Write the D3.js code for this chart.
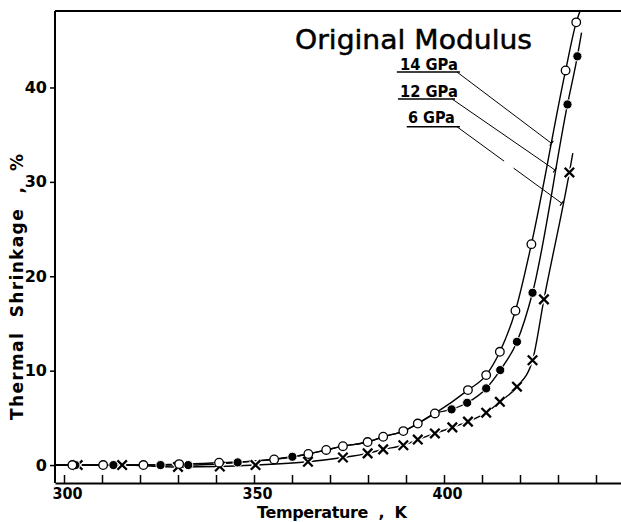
<!DOCTYPE html>
<html>
<head>
<meta charset="utf-8">
<script src="https://cdn.jsdelivr.net/npm/d3@7"></script>
<style>
  html, body { margin: 0; padding: 0; background: #fff; }
  svg { display: block; }
  text { font-family: "DejaVu Sans", sans-serif; fill: #000; }
</style>
</head>
<body>
<svg id="chart" width="621" height="522"></svg>
<script>
// ---------------- data ----------------
// 14 GPa : open circles
const temps14  = [302.2, 310.3, 320.9, 330.3, 340.8, 355.3, 364.3, 369.0, 373.4, 379.9, 384.0, 389.3, 393.1, 397.6, 406.3, 411.1, 414.7, 418.8, 423.0, 432.0, 434.8];
const shrink14 = [0, 0, 0, 0.1, 0.25, 0.6, 1.17, 1.6, 2.0, 2.44, 3.0, 3.6, 4.4, 5.47, 7.94, 9.53, 12.0, 16.35, 23.4, 41.8, 46.9];
// 12 GPa : filled circles
const temps12  = [303.0, 313.0, 325.4, 332.7, 345.7, 360.1, 402.0, 406.1, 411.1, 414.8, 419.2, 423.3, 432.5, 435.1];
const shrink12 = [0, 0, 0, 0, 0.28, 0.88, 5.9, 6.6, 8.12, 10.06, 13.06, 18.25, 38.2, 43.3];
// 6 GPa : crosses
const temps6   = [303.6, 315.3, 330.0, 341.0, 350.4, 364.2, 373.4, 379.9, 384.0, 389.3, 393.1, 397.6, 402.2, 406.3, 411.1, 414.7, 419.2, 423.3, 426.3, 433.0];
const shrink6  = [0, 0, -0.2, -0.15, 0, 0.35, 0.8, 1.24, 1.66, 2.1, 2.7, 3.35, 3.99, 4.6, 5.55, 6.7, 8.3, 11.1, 17.55, 31.0];

// fitted curves: start at the axis, end a little beyond the last point
const curveStartT = 297.8;
const curveEnd14 = [435.8, 48.1];
const curveEnd12 = [436.2, 45.8];
const curveEnd6  = [433.9, 33.05];
// the 12 GPa curve coincides with the 14 GPa curve between these temperatures
const sharedRange = [362, 399];

// axes
const xTicks = [300, 310, 320, 330, 340, 350, 360, 370, 380, 390, 400, 410, 420, 430, 440];
const xTickLabels = [300, 350, 400];
const yTicks = [0, 10, 20, 30, 40];

// annotations (data units)
const title = "Original Modulus";
const titlePos = [360.8, 44.1];
const seriesLabels = ["14 GPa", "12 GPa", "6 GPa"];
const labelT = [388.4, 388.4, 390.5];
const labelV = [41.85, 39.02, 36.2];
const underlineT0 = [387.6, 387.9, 390.2];
const underlineT1 = [404.2, 402.9, 404.2];
const underlineV = [41.64, 38.78, 35.84];
const leaderEndT = [428.3, 429.2, 431.0];
const leaderEndV = [34.08, 31.26, 27.73];

// ---------------- layout ----------------
const svg = d3.select("#chart");
const L = 55, R = 621, T = 11, B = 483;
const x = d3.scaleLinear().domain([297.63, 446.58]).range([L, R]);
const y = d3.scaleLinear().domain([-1.9, 48.1]).range([B, T]);

// axes
const xAxis = d3.axisBottom(x).tickValues(xTicks).tickSizeInner(-8).tickSizeOuter(0).tickPadding(5)
  .tickFormat(d => xTickLabels.includes(d) ? d : "");
const gx = svg.append("g").attr("transform", `translate(0,${B})`).call(xAxis);
gx.select(".domain").attr("stroke-width", 2);
gx.selectAll(".tick line").attr("stroke-width", 1.5);
gx.selectAll("text").style("font-size", "16px").style("font-weight", "bold")
  .attr("textLength", 30).attr("lengthAdjust", "spacingAndGlyphs").attr("dx", 3);

const yAxis = d3.axisLeft(y).tickValues(yTicks).tickSizeInner(5).tickSizeOuter(0).tickPadding(3);
const gy = svg.append("g").attr("transform", `translate(${L},0)`).call(yAxis);
gy.select(".domain").attr("d", `M0,${T}V${B}`).attr("stroke-width", 2);
gy.selectAll(".tick line").attr("stroke-width", 1.5);
gy.selectAll("text").style("font-size", "16px").style("font-weight", "bold");

// top frame line
svg.append("line").attr("x1", x.range()[0]).attr("x2", x.range()[1])
  .attr("y1", y.range()[1]).attr("y2", y.range()[1])
  .attr("stroke", "#000").attr("stroke-width", 2);

// axis titles
svg.append("text").attr("x", 257).attr("y", 518)
  .attr("textLength", 150).attr("lengthAdjust", "spacing")
  .style("font-size", "16px").style("font-weight", "bold").style("white-space", "pre")
  .text("Temperature  ,  K");
svg.append("text").attr("transform", "translate(23,420) rotate(-90)")
  .attr("textLength", 266).attr("lengthAdjust", "spacing")
  .style("font-size", "17px").style("font-weight", "bold").style("white-space", "pre")
  .text("Thermal  Shrinkage  ,  %");

// ---------------- curves ----------------
const zip = (ts, vs) => ts.map((t, i) => [t, vs[i]]);
const pts14 = zip(temps14, shrink14);
const pts12 = zip(temps12, shrink12);
const pts6  = zip(temps6, shrink6);

const line = d3.line().x(d => x(d[0])).y(d => y(d[1])).curve(d3.curveMonotoneX);

const c14 = [[curveStartT, 0], ...pts14, curveEnd14];
const c12 = [[curveStartT, 0],
  ...[...pts12, ...pts14.filter(p => p[0] > sharedRange[0] && p[0] < sharedRange[1])].sort((a, b) => a[0] - b[0]),
  curveEnd12];
const c6  = [[curveStartT, 0], ...pts6, curveEnd6];

[c14, c12, c6].forEach(c => {
  svg.append("path").attr("d", line(c)).attr("fill", "none")
    .attr("stroke", "#000").attr("stroke-width", 1.4);
});

// ---------------- markers ----------------
const cross = d3.symbol().type(d3.symbolX).size(60);
// crosses with white halo
svg.append("g").selectAll("path").data(pts6).join("path")
  .attr("transform", d => `translate(${x(d[0])},${y(d[1])})`)
  .attr("d", cross).attr("fill", "none").attr("stroke", "#fff").attr("stroke-width", 5);
svg.append("g").selectAll("path").data(pts6).join("path")
  .attr("transform", d => `translate(${x(d[0])},${y(d[1])})`)
  .attr("d", cross).attr("fill", "none").attr("stroke", "#000").attr("stroke-width", 2.3);

// filled circles
svg.append("g").selectAll("circle").data(pts12).join("circle")
  .attr("cx", d => x(d[0])).attr("cy", d => y(d[1])).attr("r", 4.6)
  .attr("fill", "#000").attr("stroke", "#fff").attr("stroke-width", 1);

// open circles
svg.append("g").selectAll("circle").data(pts14).join("circle")
  .attr("cx", d => x(d[0])).attr("cy", d => y(d[1])).attr("r", 4.3)
  .attr("fill", "#fff").attr("stroke", "#000").attr("stroke-width", 1.3);

// ---------------- annotations ----------------
svg.append("text").attr("x", x(titlePos[0])).attr("y", y(titlePos[1]))
  .attr("textLength", 237).attr("lengthAdjust", "spacingAndGlyphs")
  .style("font-size", "27px").style("stroke", "#000").style("stroke-width", 0.5)
  .text(title);

seriesLabels.forEach((lab, i) => {
  svg.append("text").attr("x", x(labelT[i])).attr("y", y(labelV[i]))
    .attr("textLength", i === 2 ? 47 : 58).attr("lengthAdjust", "spacingAndGlyphs")
    .style("font-size", "15px").style("font-weight", "bold").text(lab);
  svg.append("line")
    .attr("x1", x(underlineT0[i])).attr("x2", x(underlineT1[i]))
    .attr("y1", y(underlineV[i])).attr("y2", y(underlineV[i]))
    .attr("stroke", "#000").attr("stroke-width", 1.5);
  const x0 = x(underlineT1[i]) - 3, y0 = y(underlineV[i]);
  const x1 = x(leaderEndT[i]), y1 = y(leaderEndV[i]);
  const len = Math.hypot(x1 - x0, y1 - y0);
  const ld = svg.append("line").attr("x1", x0).attr("y1", y0).attr("x2", x1).attr("y2", y1)
    .attr("stroke", "#000").attr("stroke-width", 1);
  if (i === 2) ld.attr("stroke-dasharray", `${len * 0.45},${len * 0.09},${len}`);
  // small end tick perpendicular to leader
  const ux = (x1 - x0) / len, uy = (y1 - y0) / len;
  svg.append("line")
    .attr("x1", x1 - uy * 3).attr("y1", y1 + ux * 3)
    .attr("x2", x1 + uy * 3).attr("y2", y1 - ux * 3)
    .attr("stroke", "#000").attr("stroke-width", 1.2);
});
</script>
</body>
</html>
